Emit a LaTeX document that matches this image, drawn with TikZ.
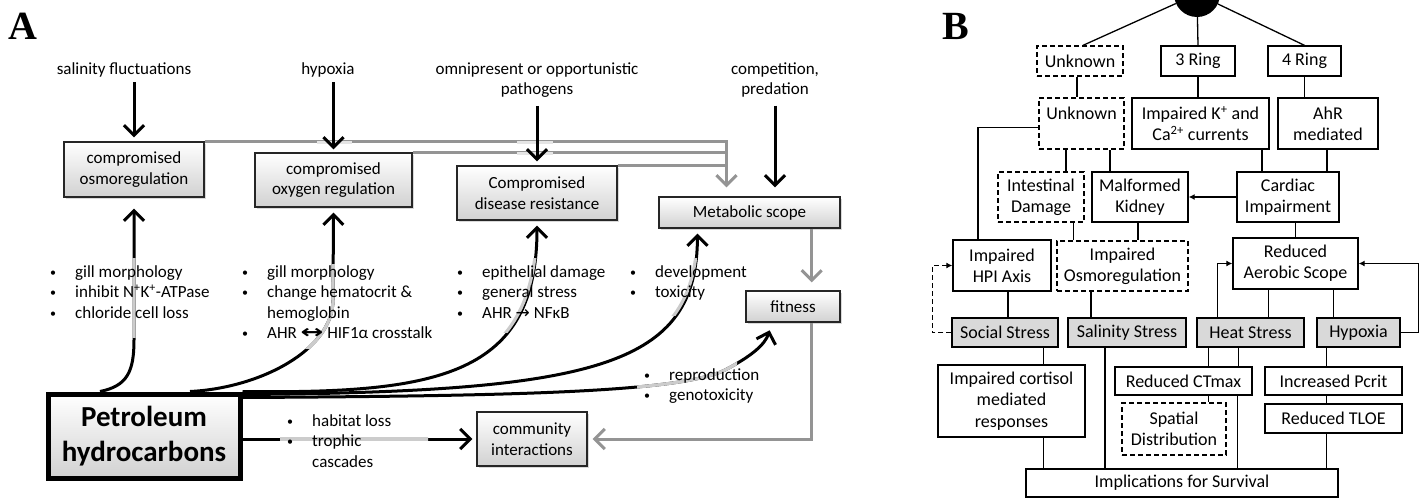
\documentclass[tikz,border=0pt]{standalone}
\usepackage{fontspec}
\usepackage{graphicx}
\setmainfont{Carlito}
\newfontfamily\labfont{Liberation Serif}
\newfontfamily\dvs{DejaVu Sans}
\usetikzlibrary{arrows.meta,shadows,calc}
\newcommand\fsz{\fontsize{17}{20.5}\selectfont}
\newcommand\bsz{\fontsize{18}{21.3}\selectfont}
\newcommand\bl[1]{\makebox[25pt][l]{\raisebox{1pt}{\fontsize{12}{12}\selectfont\textbullet}}#1}
\newcommand\nbl[1]{\makebox[25pt][l]{}#1}
\newcommand\mkbox[7]{\node[#6, minimum width={#4-#2}, minimum height={#5-#3}] (#1) at ({(#2+#4)/2},{(#3+#5)/2}) {#7};}
\newcommand\pA{([xshift=-44]pet.north) .. controls (127,386) and (134,372) .. (134,340) -- (osmo.south)}
\newcommand\pB{([xshift=46]pet.north) .. controls (260,388) and (333,350) .. (333,300) -- (oxy.south)}
\newcommand\pC{(pet.north east) .. controls (440,394) and (537,375) .. (dis.south)}
\newcommand\pD{([yshift=-3pt]pet.north east) .. controls (600,392) and (697,365) .. ([xshift=-52pt]met.south)}
\newcommand\pE{([yshift=-6pt]pet.north east) .. controls (520,396) and (680,392) .. (725,370) .. controls (750,357) and (765,345) .. ([xshift=-21pt]fit.south)}
\newcommand\pF{(pet.east |- com.west) -- (com.west)}
\begin{document}
\begin{tikzpicture}[x=1pt,y=-1pt,
  every node/.style={font=\fsz, inner sep=0pt},
  abox/.style={draw=black!85, line width=1.3pt, top color=white, bottom color=black!18,
    drop shadow={shadow xshift=2pt, shadow yshift=-2pt, opacity=0.3}, align=center},
  petbox/.style={abox, draw=black, line width=5pt, font=\fontsize{29}{35}\selectfont\bfseries},
  bbox/.style={draw, line width=1.3pt, fill=white, align=center, font=\bsz},
  dbox/.style={bbox, dash pattern=on 5pt off 3pt},
  gbox/.style={bbox, fill=black!15},
  blk/.style={line width=3pt, -{Straight Barb[length=10pt,width=20pt]}},
  gry/.style={line width=3pt, draw=black!42, -{Straight Barb[length=10pt,width=20pt]}},
  gryl/.style={line width=3pt, draw=black!42},
  hil/.style={line width=3.2pt, draw=black!20},
  gap/.style={line width=3.5pt, draw=black!10},
  lst/.style={align=left, anchor=north west},
  lnk/.style={line width=1.3pt},
  larr/.style={lnk, -{Latex[length=6pt,width=6pt]}},
  dlarr/.style={larr, dash pattern=on 5pt off 3pt},
  lab/.style={font=\fontsize{40}{40}\selectfont\labfont\bfseries}
]
\useasboundingbox (0,0) rectangle (1425,498);

% ---------------- Panel A ----------------
\node[lab] (labA) at (23,26) {A};

\node (sal) at (124,70) {salinity fluctuations};
\node (hyp) at (328,70) {hypoxia};
\node[align=center] (pat) at (537,80) {omnipresent or opportunistic\\pathogens};
\node[align=center] (comp) at (775,80) {competition,\\predation};

\mkbox{osmo}{64}{142}{204}{197}{abox}{compromised\\osmoregulation}
\mkbox{oxy}{255}{153}{412}{207}{abox}{compromised\\oxygen regulation}
\mkbox{dis}{457}{166}{617}{220}{abox}{Compromised\\disease resistance}
\mkbox{met}{659}{197}{840}{228}{abox}{Metabolic scope}
\mkbox{fit}{746}{291}{840}{322}{abox}{fitness}
\mkbox{com}{477}{412}{587}{466}{abox}{community\\interactions}
\mkbox{pet}{48}{394}{240}{478}{petbox}{Petroleum\\hydrocarbons}

% gray feedback lines
\draw[gry, shorten >=9pt] (osmo.north east) -| ([xshift=-23pt]met.north);
\draw[gryl] (oxy.north east) -- ([xshift=-23pt]met.north |- oxy.north east);
\draw[gryl] (dis.north east) -- ([xshift=-23pt]met.north |- dis.north east);
\draw[gap] (317,142.5) -- (352,142.5);
\draw[gap] (517,142.5) -- (553,142.5);
\draw[gap] (517,153.5) -- (553,153.5);
\draw[gry, shorten >=8pt] ([xshift=-29pt]met.south east) -- ([xshift=-29pt]fit.north east);
\draw[gry, shorten >=5pt] ([xshift=-29pt]fit.south east) |- (com.east);

% stressor arrows
\draw[blk, shorten <=5pt, shorten >=4pt] (sal.south -| osmo.north) -- (osmo.north);
\draw[blk, shorten <=5pt, shorten >=3pt] (hyp.south -| oxy.north) -- (oxy.north);
\draw[blk, shorten <=8pt, shorten >=4pt] (pat.south -| dis.north) -- (dis.north);
\draw[blk, shorten <=8pt, shorten >=9pt] (comp.south) -- (comp.south |- met.north);

% petroleum effects
\draw[blk, shorten >=11pt] \pA;
\draw[blk, shorten >=5pt] \pB;
\draw[blk, shorten >=5pt] \pC;
\draw[blk, shorten >=5pt] \pD;
\draw[blk, shorten >=8pt] \pE;
\draw[blk, shorten >=4pt] \pF;
\begin{scope}\clip (118,258) rectangle (150,337); \draw[hil] \pA; \end{scope}
\begin{scope}\clip (280,264) rectangle (345,348); \draw[hil] \pB; \end{scope}
\begin{scope}\clip (480,258) rectangle (550,332); \draw[hil] \pC; \end{scope}
\begin{scope}\clip (640,258) rectangle (710,315); \draw[hil] \pD; \end{scope}
\begin{scope}\clip (637,320) rectangle (737,400); \draw[hil] \pE; \end{scope}
\begin{scope}\clip (280,420) rectangle (428,455); \draw[hil] \pF; \end{scope}

% bullet lists
\node[lst] (l1) at (50,265) {\bl{gill morphology}\\\bl{inhibit N\textsuperscript{+}K\textsuperscript{+}-ATPase}\\\bl{chloride cell loss}};
\node[lst] (l2) at (242,265) {\bl{gill morphology}\\\bl{change hematocrit \&}\\\nbl{hemoglobin}\\\bl{AHR {\dvs\bfseries\scalebox{1.6}[1.1]{↔}} HIF1α crosstalk}};
\node[lst] (l3) at (457,265) {\bl{epithelial damage}\\\bl{general stress}\\\bl{AHR {\dvs →} NFκB}};
\node[lst] (l4) at (630,265) {\bl{development}\\\bl{toxicity}};
\node[lst] (l5) at (644,368) {\bl{reproduction}\\\bl{genotoxicity}};
\node[lst] (l6) at (287,414) {\bl{habitat loss}\\\bl{trophic}\\\nbl{cascades}};

% ---------------- Panel B ----------------
\node[lab] (labB) at (956,26) {B};
\node[circle, fill=black, minimum size=46pt] (hub) at (1197,-6) {};

\mkbox{un1}{1037}{46}{1123}{76}{dbox}{Unknown}
\mkbox{r3}{1161}{46}{1235}{76}{bbox}{3 Ring}
\mkbox{r4}{1268}{46}{1341}{76}{bbox}{4 Ring}
\mkbox{un2}{1039}{98}{1124}{149}{dbox}{Unknown\\~}
\mkbox{ikc}{1132}{98}{1269}{149}{bbox}{Impaired K\textsuperscript{+} and\\Ca\textsuperscript{2+} currents}
\mkbox{ahr}{1278}{98}{1378}{149}{bbox}{AhR\\mediated}
\mkbox{int}{998}{172}{1084}{222}{dbox}{Intestinal\\Damage}
\mkbox{kid}{1092}{172}{1188}{222}{bbox}{Malformed\\Kidney}
\mkbox{car}{1237}{172}{1339}{222}{bbox}{Cardiac\\Impairment}
\mkbox{hpi}{953}{240}{1051}{291}{bbox}{Impaired\\HPI Axis}
\mkbox{osm}{1057}{241}{1188}{291}{dbox}{Impaired\\Osmoregulation}
\mkbox{aer}{1233}{238}{1358}{289}{bbox}{Reduced\\Aerobic Scope}
\mkbox{soc}{952}{318}{1058}{347}{gbox}{Social Stress}
\mkbox{sal2}{1068}{318}{1186}{347}{gbox}{Salinity Stress}
\mkbox{heat}{1197}{318}{1304}{347}{gbox}{Heat Stress}
\mkbox{hyp2}{1317}{318}{1400}{347}{gbox}{Hypoxia}
\mkbox{cor}{938}{365}{1085}{437}{bbox}{Impaired cortisol\\mediated\\responses}
\mkbox{ctm}{1115}{367}{1252}{395}{bbox}{Reduced CTmax}
\mkbox{spa}{1122}{403}{1226}{455}{dbox}{Spatial\\Distribution}
\mkbox{pcr}{1265}{367}{1402}{395}{bbox}{Increased Pcrit}
\mkbox{tlo}{1265}{404}{1402}{433}{bbox}{Reduced TLOE}
\mkbox{imp}{1026}{469}{1338}{497}{bbox}{Implications for Survival}

\draw[lnk] (hub) -- ([xshift=3pt]un1.north);
\draw[lnk] (hub) -- (r3.north);
\draw[lnk] (hub) -- (r4.north);
\draw[lnk] ([xshift=-3pt]un1.south) -- ([xshift=-3pt]un1.south |- un2.north);
\draw[lnk] (r3.south) -- (r3.south |- ikc.north);
\draw[lnk] (r4.south) -- (r4.south |- ahr.north);
\draw[lnk] ([xshift=25pt]int.north) -- ([xshift=25pt]int.north |- un2.south);
\draw[lnk] ([xshift=-30pt]kid.north) -- ([xshift=-30pt]kid.north |- un2.south);
\draw[lnk] ([xshift=-26pt]car.north) -- ([xshift=-26pt]car.north |- ikc.south);
\draw[lnk] ([xshift=39pt]car.north) -- ([xshift=39pt]car.north |- ahr.south);
\draw[larr] (car.west) -- (kid.east);
\draw[lnk] ([yshift=-4pt]un2.west) -| ([xshift=-24pt]hpi.north);
\draw[lnk] ([xshift=-49pt]osm.north) -- ([xshift=-49pt]osm.north |- int.south);
\draw[lnk] ([xshift=-2pt]kid.south) -- ([xshift=-2pt]kid.south |- osm.north);
\draw[lnk] (aer.north) -- (aer.north |- car.south);
\draw[lnk] ([xshift=6pt]hpi.south) -- ([xshift=6pt]hpi.south |- soc.north);
\draw[lnk] ([xshift=-36pt]sal2.north) -- ([xshift=-36pt]sal2.north |- osm.south);
\draw[lnk] ([xshift=18pt]heat.north) -- ([xshift=18pt]heat.north |- aer.south);
\draw[lnk] ([xshift=-25pt]hyp2.north) -- ([xshift=-25pt]hyp2.north |- aer.south);
\draw[larr] ([xshift=-33pt]heat.north) |- (aer.west);
\draw[larr] (hyp2.east) -- ++(18,0) |- (aer.east);
\draw[dlarr] (soc.west) -- ++(-19,0) |- (hpi.west);
\draw[lnk] ([xshift=32pt]cor.north) -- ([xshift=32pt]cor.north |- soc.south);
\draw[lnk] ([xshift=32pt]cor.south) -- ([xshift=32pt]cor.south |- imp.north);
\draw[lnk] ([xshift=-22pt]sal2.south) -- ([xshift=-22pt]sal2.south |- imp.north);
\draw[lnk] ([xshift=-42pt]heat.south) -- ([xshift=-42pt]heat.south |- ctm.north);
\draw[lnk] ([xshift=-12pt]heat.south) -- ([xshift=-12pt]heat.south |- ctm.north);
\draw[lnk] ([xshift=54pt]ctm.south) -- ([xshift=54pt]ctm.south |- imp.north);
\draw[lnk] ([xshift=25pt]ctm.south) -- ([xshift=25pt]ctm.south |- spa.north);
\draw[lnk] ([xshift=-7pt]pcr.north) -- ([xshift=-7pt]pcr.north |- hyp2.south);
\draw[lnk] ([xshift=-7pt]pcr.south) -- ([xshift=-7pt]pcr.south |- tlo.north);
\draw[lnk] ([xshift=-7pt]tlo.south) -- ([xshift=-7pt]tlo.south |- imp.north);
\end{tikzpicture}
\end{document}
